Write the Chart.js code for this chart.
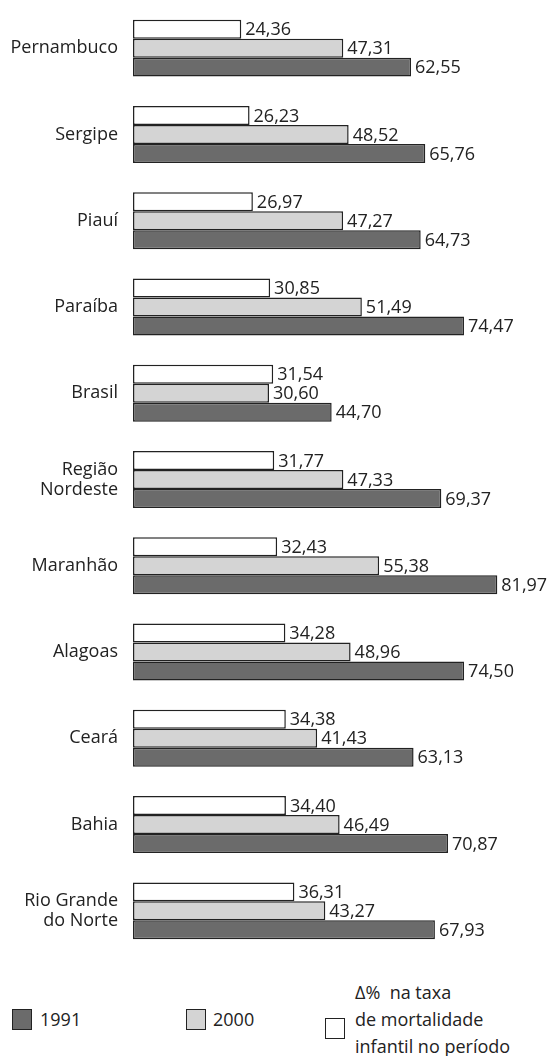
<!DOCTYPE html>
<html>
<head>
<meta charset="utf-8">
<script src="https://cdn.jsdelivr.net/npm/chart.js@4"></script>
<style>
    body { margin: 0; background: #fff; font-family: "Open Sans", sans-serif; color: #222; }
    #wrap { position: relative; width: 554px; height: 1056px; }
    #box { position: absolute; left: 0; top: 0; width: 554px; height: 960px; }
    .sw { position: absolute; width: 20px; height: 21px; border: 1.5px solid #222; box-sizing: border-box; }
    .lt { position: absolute; font-size: 18px; line-height: 27px; white-space: nowrap; }
</style>
</head>
<body>
<div id="wrap">
    <div id="box"><canvas id="barChart"></canvas></div>

    <div class="sw" style="left:12px; top:1009px; background:#6b6b6b;"></div>
    <div class="lt" style="left:40px; top:1006px;">1991</div>

    <div class="sw" style="left:186px; top:1009px; background:#d4d4d4;"></div>
    <div class="lt" style="left:213px; top:1006px;">2000</div>

    <div class="sw" style="left:325px; top:1018px; background:#fff;"></div>
    <div class="lt" style="left:355px; top:979px;">Δ%&nbsp; na taxa<br>de mortalidade<br>infantil no período</div>
</div>

<script>
const categories = ['Pernambuco', 'Sergipe', 'Piauí', 'Paraíba', 'Brasil', ['Região', 'Nordeste'],
    'Maranhão', 'Alagoas', 'Ceará', 'Bahia', ['Rio Grande', 'do Norte']];
const deltaValues = [24.36, 26.23, 26.97, 30.85, 31.54, 31.77, 32.43, 34.28, 34.38, 34.40, 36.31];
const values2000 = [47.31, 48.52, 47.27, 51.49, 30.60, 47.33, 55.38, 48.96, 41.43, 46.49, 43.27];
const values1991 = [62.55, 65.76, 64.73, 74.47, 44.70, 69.37, 81.97, 74.50, 63.13, 70.87, 67.93];

function fmt(v) {
    return v.toFixed(2).replace('.', ',');
}

// rótulos de valor à direita das barras
const valueLabels = {
    id: 'valueLabels',
    afterDatasetsDraw(chart) {
        const ctx = chart.ctx;
        ctx.save();
        ctx.font = '18px "Open Sans"';
        ctx.fillStyle = '#222';
        ctx.textAlign = 'left';
        ctx.textBaseline = 'middle';
        chart.data.datasets.forEach((ds, i) => {
            chart.getDatasetMeta(i).data.forEach((bar, j) => {
                ctx.fillText(fmt(ds.data[j]), bar.x + 4, bar.y + 1);
            });
        });
        ctx.restore();
    }
};

new Chart(document.getElementById('barChart'), {
    type: 'bar',
    data: {
        labels: categories,
        datasets: [{
            label: 'Δ% na taxa de mortalidade infantil no período',
            data: deltaValues,
            backgroundColor: '#ffffff'
        }, {
            label: '2000',
            data: values2000,
            backgroundColor: '#d4d4d4'
        }, {
            label: '1991',
            data: values1991,
            backgroundColor: '#6b6b6b'
        }]
    },
    options: {
        indexAxis: 'y',
        responsive: true,
        maintainAspectRatio: false,
        animation: false,
        datasets: {
            bar: {
                borderColor: '#222',
                borderWidth: 1.5,
                borderSkipped: false,
                categoryPercentage: 0.66,
                barPercentage: 1
            }
        },
        layout: { padding: { top: 5, bottom: 6, left: 0, right: 21 } },
        plugins: {
            legend: { display: false },
            tooltip: { enabled: false }
        },
        scales: {
            x: {
                display: false,
                min: 0,
                max: 90
            },
            y: {
                grid: { display: false, drawTicks: false },
                border: { display: false },
                afterFit(scale) {
                    scale.width = 133;
                    scale.paddingTop = 0;
                    scale.paddingBottom = 0;
                },
                ticks: {
                    padding: 15,
                    color: '#222',
                    font: { family: 'Open Sans', size: 18, lineHeight: 1.1 }
                }
            }
        }
    },
    plugins: [valueLabels]
});
</script>
</body>
</html>
